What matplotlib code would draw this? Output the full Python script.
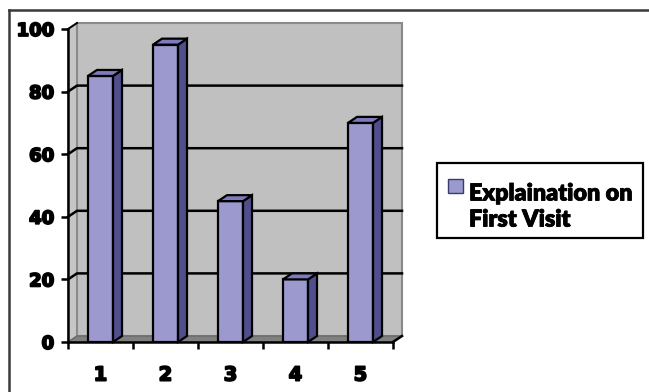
"""
3D-style column chart (Excel look): Explaination on First Visit.
"""

import matplotlib
matplotlib.use('Agg')
import matplotlib.pyplot as plt
import matplotlib.patheffects as pe
from matplotlib.patches import Polygon, Rectangle
from matplotlib.lines import Line2D

categories = [1, 2, 3, 4, 5]
values = [85, 95, 45, 20, 70]
y_ticks = [0, 20, 40, 60, 80, 100]
series_label = 'Explaination on\nFirst Visit'

FRONT = '#9b99cd'
SIDE = '#504e8c'
TOP = '#7d7abe'
WALL = '#c0c0c0'
SIDE_WALL = '#c6c6c6'
FLOOR = '#808080'

W, H = 649, 392
fig = plt.figure(figsize=(W / 100, H / 100), dpi=100)
ax = fig.add_axes([68 / W, 50 / H, 325 / W, 313 / H])

x0, x1 = 0.5, len(categories) + 0.5
ymax = 100
dx = 9 / 65          # depth offset in category units
dy = 6 / 3.13        # depth offset in value units
bw = 0.385

ax.set_xlim(x0, x1)
ax.set_ylim(0, ymax)

# walls and floor
ax.add_patch(Polygon([(x0, 0), (x0 + dx, dy), (x0 + dx, ymax + dy), (x0, ymax)],
                     closed=True, fc=SIDE_WALL, ec='#8a8a8a', lw=1, zorder=0, clip_on=False))
ax.add_patch(Polygon([(x0 + dx, dy), (x1 + dx, dy), (x1 + dx, ymax + dy), (x0 + dx, ymax + dy)],
                     closed=True, fc=WALL, ec='#8a8a8a', lw=1.5, zorder=0, clip_on=False))
ax.add_patch(Polygon([(x0, 0), (x1, 0), (x1 + dx, dy), (x0 + dx, dy)],
                     closed=True, fc=FLOOR, ec='#6a6a6a', lw=1, zorder=1, clip_on=False))

# gridlines across side wall and back wall
for v in y_ticks[1:-1]:
    ax.plot([x0, x0 + dx, x1 + dx], [v, v + dy, v + dy], color='black', lw=1.8,
            zorder=1, clip_on=False)
ax.plot([x0, x0 + dx], [ymax, ymax + dy], color='black', lw=1.4, zorder=1, clip_on=False)

# bars: front face from ax.bar, side and top faces as polygons
bars = ax.bar(categories, values, width=bw, color=FRONT, edgecolor='black',
              linewidth=1.6, zorder=3)
for b in bars:
    left = b.get_x()
    right = left + b.get_width()
    top = b.get_height()
    ax.add_patch(Polygon([(right, 0), (right + dx, dy), (right + dx, top + dy), (right, top)],
                         closed=True, fc=SIDE, ec='black', lw=1.6, zorder=3, clip_on=False))
    ax.add_patch(Polygon([(left, top), (right, top), (right + dx, top + dy), (left + dx, top + dy)],
                         closed=True, fc=TOP, ec='black', lw=1.6, zorder=3, clip_on=False))

# axes lines
for s in ['top', 'right']:
    ax.spines[s].set_visible(False)
for s in ['left', 'bottom']:
    ax.spines[s].set_color('black')
    ax.spines[s].set_linewidth(1.8)
    ax.spines[s].set_zorder(4)
ax.plot([x1, x1 + dx], [0, dy], color='black', lw=1.8, zorder=4, clip_on=False)

ax.set_yticks(y_ticks)
ax.set_yticklabels([str(t) for t in y_ticks])
ax.set_xticks(categories)
ax.set_xticklabels([str(c) for c in categories])
ax.set_xticks([x0 + i for i in range(len(categories) + 1)], minor=True)
ax.tick_params(axis='y', length=5, width=1.8, pad=5, labelsize=13, colors='black')
ax.tick_params(axis='x', which='major', length=0, pad=17, labelsize=14)
ax.tick_params(axis='x', which='minor', length=5, width=1.8, direction='out')
heavy = [pe.withStroke(linewidth=1.3, foreground='black')]
for lab in ax.get_xticklabels() + ax.get_yticklabels():
    lab.set_fontweight('bold')
    lab.set_family('DejaVu Sans')
    lab.set_path_effects(heavy)
ax.patch.set_visible(False)

# outer chart frame (top and left edges visible)
fig.add_artist(Line2D([9 / W, 1], [1 - 10 / H, 1 - 10 / H], color='#3a3a3a', lw=1.8))
fig.add_artist(Line2D([9 / W, 9 / W], [0, 1 - 10 / H], color='#3a3a3a', lw=1.8))

# legend box
fig.add_artist(Rectangle((437 / W, 1 - 238 / H), 206 / W, 75 / H, transform=fig.transFigure,
                         fc='white', ec='black', lw=1.6))
fig.add_artist(Rectangle((448 / W, 1 - 193 / H), 15 / W, 14 / H, transform=fig.transFigure,
                         fc=FRONT, ec='#3a3a70', lw=1))
fig.text(469 / W, 1 - 207 / H, series_label, ha='left', va='center', fontsize=16.8,
         fontweight='heavy', family='Lato', linespacing=1.3,
         path_effects=[pe.withStroke(linewidth=0.6, foreground='black')])

fig.savefig('out.png', dpi=100)
